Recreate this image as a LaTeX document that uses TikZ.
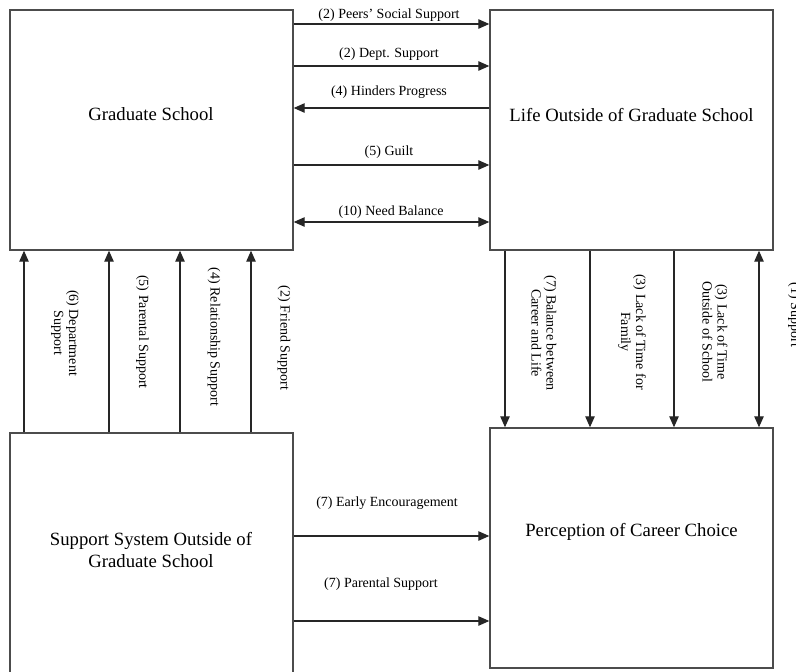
\documentclass[tikz,border=0pt]{standalone}
\usepackage{fontspec}
\setmainfont{Liberation Serif}
\usetikzlibrary{arrows.meta}
\begin{document}
\begin{tikzpicture}[x=1pt,y=-1pt,
  box/.style={draw=black!70, line width=1.4pt, inner sep=0pt, fill=white},
  title/.style={font=\fontsize{18.7}{22}\selectfont, align=center, inner sep=0pt},
  lab/.style={font=\fontsize{14}{15}\selectfont, align=center, inner sep=0pt},
  vlab/.style={lab, rotate=-90},
  tip/.tip={Triangle[length=11pt,width=9.5pt]},
  arr/.style={draw=black!85, line width=1.1pt, -tip},
  darr/.style={draw=black!85, line width=1.1pt, tip-tip}]
\useasboundingbox (0,0) rectangle (796,672);
% boxes
\node[box, minimum width=283pt, minimum height=240pt] (gs) at (151.5,130) {};
\node[box, minimum width=283pt, minimum height=240pt] (lo) at (631.5,130) {};
\node[box, minimum width=283pt, minimum height=267pt] (ss) at (151.5,566.5) {};
\node[box, minimum width=283pt, minimum height=240pt] (pc) at (631.5,548) {};
% titles
\node[title, anchor=base] (t1) at (151,120) {Graduate School};
\node[title, anchor=base] (t2) at (631.5,121) {Life Outside of Graduate School};
\node[title] (t3) at (151,550) {Support System Outside of\\Graduate School};
\node[title, anchor=base] (t4) at (631.5,536) {Perception of Career Choice};
% horizontal connectors (top)
\draw[arr] (gs.east |- 0,24) -- (lo.west |- 0,24);
\draw[arr] (gs.east |- 0,66) -- (lo.west |- 0,66);
\draw[arr] (lo.west |- 0,108) -- (gs.east |- 0,108);
\draw[arr] (gs.east |- 0,165) -- (lo.west |- 0,165);
\draw[darr] (gs.east |- 0,222) -- (lo.west |- 0,222);
\node[lab, anchor=base] (h1) at (389,18) {(2) Peers' Social Support};
\node[lab, anchor=base] (h2) at (389,57) {(2) Dept. Support};
\node[lab, anchor=base] (h3) at (389,95) {(4) Hinders Progress};
\node[lab, anchor=base] (h4) at (389,155) {(5) Guilt};
\node[lab, anchor=base] (h5) at (391,215) {(10) Need Balance};
% left vertical connectors
\draw[arr] (ss.north -| 24,0) -- (gs.south -| 24,0);
\draw[arr] (ss.north -| 109,0) -- (gs.south -| 109,0);
\draw[arr] (ss.north -| 180,0) -- (gs.south -| 180,0);
\draw[arr] (ss.north -| 251,0) -- (gs.south -| 251,0);
\node[vlab] (v1) at (65,333) {(6) Department\\Support};
\node[vlab] (v2) at (142.5,332) {(5) Parental Support};
\node[vlab] (v3) at (214,337) {(4) Relationship Support};
\node[vlab] (v4) at (284,338) {(2) Friend Support};
% right vertical connectors
\draw[arr] (lo.south -| 505,0) -- (pc.north -| 505,0);
\draw[arr] (lo.south -| 590,0) -- (pc.north -| 590,0);
\draw[arr] (lo.south -| 674,0) -- (pc.north -| 674,0);
\draw[darr] (lo.south -| 759,0) -- (pc.north -| 759,0);
\node[vlab] (r1) at (544,333) {(7) Balance between\\Career and Life};
\node[vlab] (r2) at (632,332) {(3) Lack of Time for\\Family};
\node[vlab] (r3) at (715,332) {(3) Lack of Time\\Outside of School};
\node[vlab, anchor=base] (r4) at (791,315) {(1) Support};
% bottom connectors
\draw[arr] (ss.east |- 0,536) -- (pc.west |- 0,536);
\draw[arr] (ss.east |- 0,621) -- (pc.west |- 0,621);
\node[lab, anchor=base] (b1) at (387,506) {(7) Early Encouragement};
\node[lab, anchor=base] (b2) at (381,587) {(7) Parental Support};
\end{tikzpicture}
\end{document}
